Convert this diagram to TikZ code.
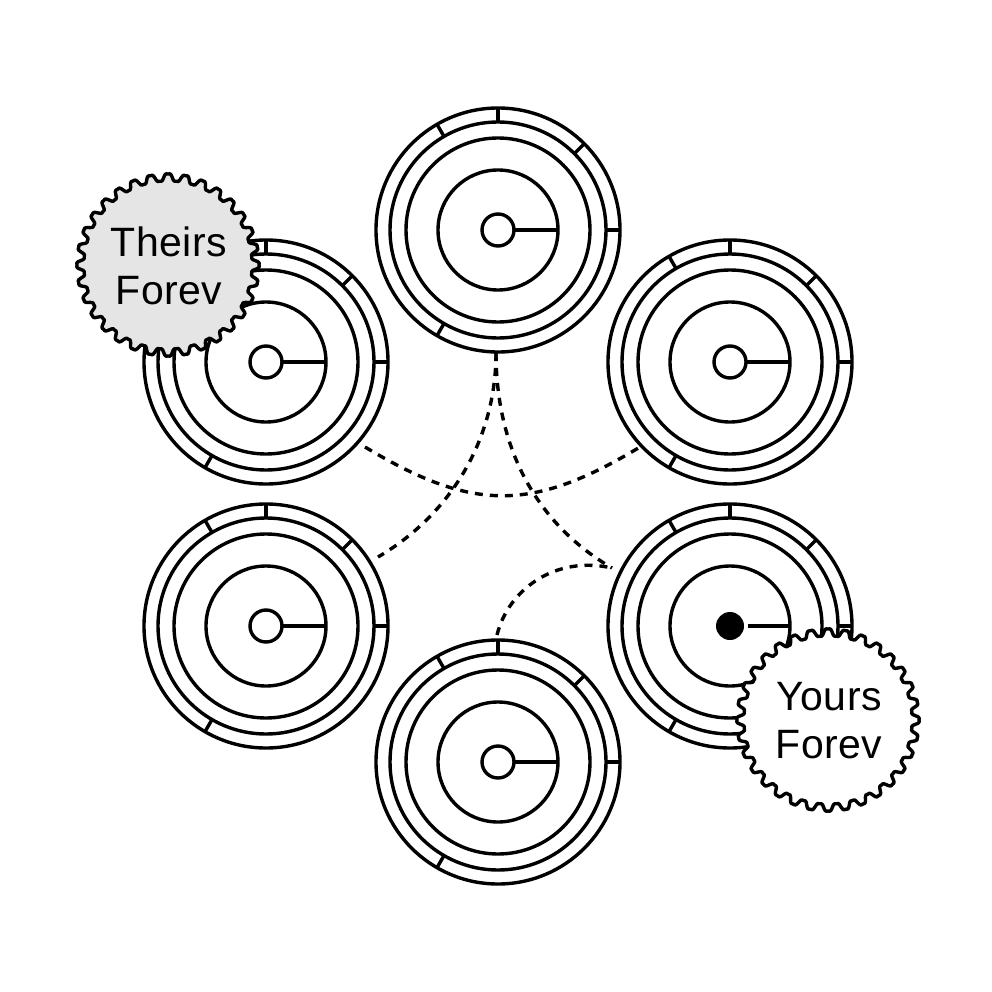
\documentclass[tikz,border=0pt]{standalone}
\usepackage{fontspec}
\setmainfont[LetterSpace=1.2]{Liberation Sans}
\usepackage{xcolor}
\usetikzlibrary{positioning}
\definecolor{badgegray}{RGB}{229, 229, 229}

\newcommand{\dial}[3][hub]{%
    \node[ring, minimum size=244pt] (#2o) at (#3) {};
    \node[ring, minimum size=216pt] (#2a) at (#3) {};
    \node[ring, minimum size=184pt] (#2b) at (#3) {};
    \node[ring, minimum size=120pt] (#2c) at (#3) {};
    \node[#1] (#2h) at (#3) {};
    \draw[line] (#2h.east) -- (#2c.east);
    \foreach \ang in {0,45,90,120,240}
        \draw[line] (#2a.\ang) -- (#2o.\ang);
}
\newcommand{\badge}[4]{%
    \draw[line, line join=round, fill=#2] plot[domain=0:360, samples=769, shift={(#3)},
        declare function={cc(\t)=cos(32*\t); wob(\t)=87.6+4.1*(1.51*cc(\t)-0.68*cc(\t)*cc(\t)*cc(\t));}]
        ({wob(\x)*cos(\x)}, {wob(\x)*sin(\x)}) -- cycle;
    \node[label, xshift=1pt, yshift=-1pt] (#1) at (#3) {#4};
}

\begin{document}
\begin{tikzpicture}[
    x=1pt, y=-1pt,
    line/.style={line width=3.4pt, black},
    ring/.style={circle, draw=black, line width=3.4pt, inner sep=0pt, outer sep=0pt},
    hub/.style={circle, draw=black, fill=white, line width=3.4pt, minimum size=32pt, inner sep=0pt, outer sep=0pt},
    solidhub/.style={circle, fill=black, minimum size=28pt, inner sep=0pt, outer sep=4pt},
    link/.style={line width=3.4pt, black, dash pattern=on 8pt off 7pt},
    label/.style={align=center, font=\fontsize{41}{48}\selectfont, text=black}
]
\useasboundingbox (0,0) rectangle (992,992);

\dial{top}{498,230}
\dial{ul}{266,362}
\dial{ur}{730,362}
\dial{ll}{266,626}
\dial[solidhub]{lr}{730,626}
\dial{bot}{498,762}

\coordinate (ulport) at (365,447);
\coordinate (urport) at (640,447);
\coordinate (topport) at (496,353);
\coordinate (llport) at (378,557);
\coordinate (lrport) at (612,568);
\coordinate (botport) at (497,635);

\draw[link] (ulport) .. controls (473,512) and (532,512) .. (urport);
\draw[link] (topport) .. controls (496,440) and (450,515) .. (llport);
\draw[link] (topport) .. controls (496,440) and (530,520) .. (lrport);
\draw[link] (botport) .. controls (508,590) and (555,555) .. (lrport);

\badge{theirs}{badgegray}{168,265}{Theirs\\Forev}
\badge{yours}{white}{828,720}{Yours\\Forev}

\end{tikzpicture}
\end{document}
